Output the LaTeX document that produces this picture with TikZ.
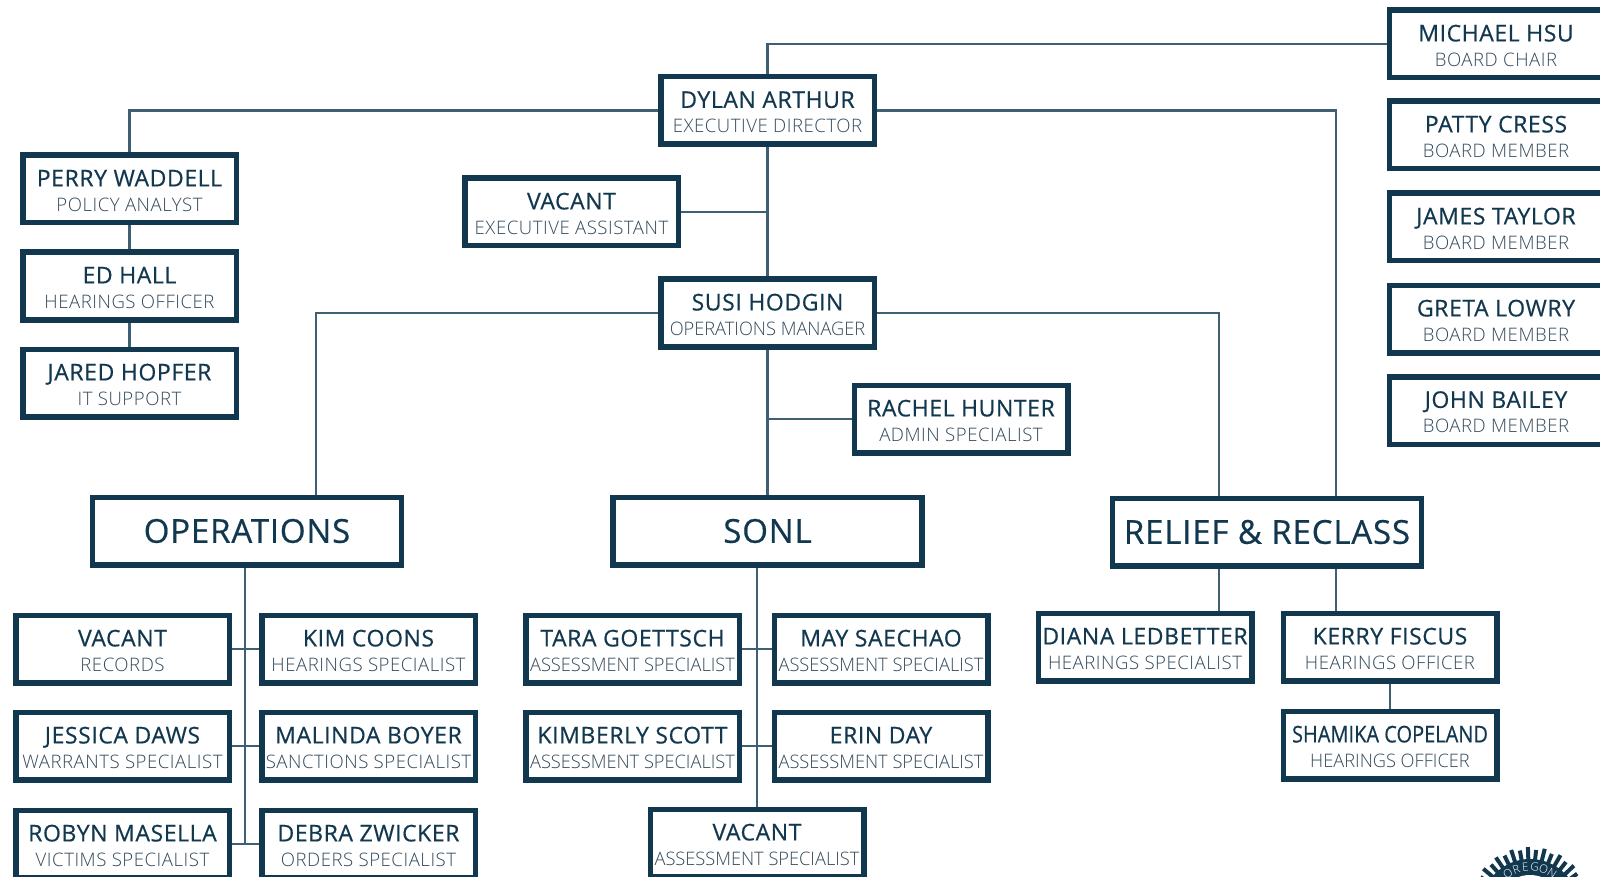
\documentclass[tikz,border=0pt]{standalone}
\usepackage{fontspec}
\newfontfamily\namefont[LetterSpace=2.5,FakeBold=0.5]{Open Sans}
\newfontfamily\rolefont[LetterSpace=2.8]{Open Sans Light}
\newfontfamily\narrowname[FakeStretch=0.87,FakeBold=0.5]{Open Sans}
\newfontfamily\narrowrole[FakeStretch=0.98]{Open Sans Light}
\definecolor{boxblue}{HTML}{12384F}
\definecolor{linkblue}{HTML}{3F6072}
\definecolor{rolegray}{HTML}{334A5B}
\newcommand{\staff}[2]{\rule{0pt}{20pt}{\namefont #1}\\{\rolefont\fontsize{18.6}{25}\selectfont\color{rolegray} #2}}
\newcommand{\staffnarrow}[2]{\rule{0pt}{20pt}{\namefont #1}\\{\narrowrole\fontsize{18.6}{25}\selectfont\color{rolegray} #2}}
\tikzset{
	staffbox/.style={draw=boxblue,line width=5.5pt,fill=white,minimum width=213.5pt,minimum height=67.5pt,inner sep=0pt,align=center,text=boxblue,font=\fontsize{23}{25}\selectfont},
	teambox/.style={staffbox,minimum width=309pt,font=\namefont\fontsize{33}{36}\selectfont},
	link/.style={draw=linkblue,line width=2.2pt},
	sealletter/.style={inner sep=0pt,text=white,font=\rolefont\fontsize{11.5}{12}\selectfont}
}
\begin{document}
\begin{tikzpicture}[x=1pt,y=-1pt]
	\useasboundingbox (0,0) rectangle (1600,877);
	% board
	\node[staffbox] (hsu) at (1496,44) {\staff{MICHAEL HSU}{BOARD CHAIR}};
	\node[staffbox] (cress) at (1496,135) {\staff{PATTY CRESS}{BOARD MEMBER}};
	\node[staffbox] (taylor) at (1496,227) {\staff{JAMES TAYLOR}{BOARD MEMBER}};
	\node[staffbox] (lowry) at (1496,319) {\staff{GRETA LOWRY}{BOARD MEMBER}};
	\node[staffbox] (bailey) at (1496,410.5) {\staff{JOHN BAILEY}{BOARD MEMBER}};
	% directors
	\node[staffbox] (arthur) at (767.5,110.5) {\staff{DYLAN ARTHUR}{EXECUTIVE DIRECTOR}};
	\node[staffbox] (hodgin) at (767.5,313) {\staffnarrow{SUSI HODGIN}{OPERATIONS MANAGER}};
	\node[staffbox] (execasst) at (571.5,212) {\staff{VACANT}{EXECUTIVE ASSISTANT}};
	\node[staffbox] (hunter) at (961,419) {\staff{RACHEL HUNTER}{ADMIN SPECIALIST}};
	\node[staffbox] (waddell) at (129.5,189) {\staff{PERRY WADDELL}{POLICY ANALYST}};
	\node[staffbox] (hall) at (129.5,286) {\staff{ED HALL}{HEARINGS OFFICER}};
	\node[staffbox] (hopfer) at (129.5,383) {\staff{JARED HOPFER}{IT SUPPORT}};
	% teams
	\node[teambox] (ops) at (247,531) {OPERATIONS};
	\node[teambox] (sonl) at (767.5,531) {SONL};
	\node[teambox] (relief) at (1267,532) {RELIEF \& RECLASS};
	% operations
	\node[staffbox] (records) at (122.5,649) {\staff{VACANT}{RECORDS}};
	\node[staffbox] (coons) at (368.5,649) {\staff{KIM COONS}{HEARINGS SPECIALIST}};
	\node[staffbox] (daws) at (122.5,746) {\staff{JESSICA DAWS}{WARRANTS SPECIALIST}};
	\node[staffbox] (boyer) at (368.5,746) {\staff{MALINDA BOYER}{SANCTIONS SPECIALIST}};
	\node[staffbox] (masella) at (122.5,844) {\staff{ROBYN MASELLA}{VICTIMS SPECIALIST}};
	\node[staffbox] (zwicker) at (368.5,844) {\staff{DEBRA ZWICKER}{ORDERS SPECIALIST}};
	% sonl
	\node[staffbox] (goettsch) at (632.5,649) {\staffnarrow{TARA GOETTSCH}{ASSESSMENT SPECIALIST}};
	\node[staffbox] (saechao) at (881,649) {\staffnarrow{MAY SAECHAO}{ASSESSMENT SPECIALIST}};
	\node[staffbox] (scott) at (632.5,746) {\staffnarrow{KIMBERLY SCOTT}{ASSESSMENT SPECIALIST}};
	\node[staffbox] (day) at (881,746) {\staffnarrow{ERIN DAY}{ASSESSMENT SPECIALIST}};
	\node[staffbox] (sonlvacant) at (757,843) {\staffnarrow{VACANT}{ASSESSMENT SPECIALIST}};
	% relief
	\node[staffbox] (ledbetter) at (1145,647) {\staff{DIANA LEDBETTER}{HEARINGS SPECIALIST}};
	\node[staffbox] (fiscus) at (1390,647) {\staff{KERRY FISCUS}{HEARINGS OFFICER}};
	\node[staffbox] (copeland) at (1390,745) {\rule{0pt}{20pt}{\narrowname SHAMIKA COPELAND}\\{\narrowrole\fontsize{18.6}{25}\selectfont\color{rolegray} HEARINGS OFFICER}};
	% links
	\draw[link] (hsu.west) -| (arthur.north);
	\draw[link] (arthur.west) -| (waddell.north);
	\draw[link] (arthur.east) -| ([xshift=69pt]relief.north);
	\draw[link] (arthur.south) -- (hodgin.north);
	\draw[link] (execasst.east) -- (execasst.east -| arthur.south);
	\draw[link] (waddell.south) -- (hall.north);
	\draw[link] (hall.south) -- (hopfer.north);
	\draw[link] (hodgin.west) -| ([xshift=69pt]ops.north);
	\draw[link] (hodgin.east) -| ([xshift=-48pt]relief.north);
	\draw[link] (hodgin.south) -- (sonl.north);
	\draw[link] (hunter.west) -- (hunter.west -| hodgin.south);
	\draw[link] ([xshift=-2pt]ops.south) -- ([xshift=-2pt]ops.south |- masella.east);
	\draw[link] (records.east) -- (coons.west);
	\draw[link] (daws.east) -- (boyer.west);
	\draw[link] (masella.east) -- (zwicker.west);
	\draw[link] (sonl.south -| sonlvacant.north) -- (sonlvacant.north);
	\draw[link] (goettsch.east) -- (saechao.west);
	\draw[link] (scott.east) -- (day.west);
	\draw[link] ([xshift=-48pt]relief.south) -- ([xshift=-48pt]relief.south |- ledbetter.north);
	\draw[link] ([xshift=69pt]relief.south) -- ([xshift=69pt]relief.south |- fiscus.north);
	\draw[link] (fiscus.south) -- (copeland.north);
	% seal
	\begin{scope}[shift={(1530,908)}]
		\foreach \a in {180,188,...,360}
			\draw[boxblue,line width=4pt] (\a:48) -- (\a:{57+mod(\a,16)/3});
		\fill[boxblue] (0,0) circle (49);
		\fill[white] (0,0) circle (33);
		\foreach \c/\a in {O/237.5,R/250.5,E/263.5,G/276.5,O/289.5,N/302.5}
			\node[sealletter,rotate={270-\a}] (seal\a) at (\a:41) {\c};
	\end{scope}
\end{tikzpicture}
\end{document}
